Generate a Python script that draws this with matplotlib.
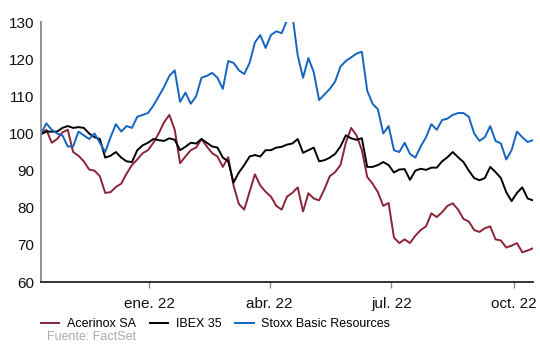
import matplotlib
matplotlib.use("Agg")
import matplotlib.pyplot as plt
import matplotlib.dates as mdates
import pandas as pd

# Data (rebased to 100), sampled every 4 days from 12 Oct 2021
dates = pd.date_range("2021-10-12", periods=93, freq="4D")

acerinox = [
    100, 101, 97.5, 98.5, 100.3, 101, 95, 94, 92.5, 90.3,
    90, 88.5, 84, 84.2, 85.6, 86.5, 89.2, 91.5, 93, 94.7,
    95.5, 97.5, 100, 103, 105, 101, 92, 93.8, 95.5, 96.2,
    98.5, 96.5, 94.7, 93.8, 91, 93.6, 86, 81, 79.5, 84.3,
    89, 86, 84.3, 83, 80.5, 79.5, 83, 84, 85.5, 79,
    83.9, 82.5, 82, 85, 88.5, 89.6, 91.5, 97.5, 101.5, 99.5,
    95.5, 88.3, 86.5, 84.2, 80.5, 81.3, 72, 70.5, 71.5, 70.5,
    72.5, 74, 75, 78.5, 77.5, 78.8, 80.5, 81.2, 79.5, 77,
    76.3, 74, 73.5, 74.5, 75, 71.5, 71.2, 69.3, 69.8, 70.5,
    68, 68.5, 69.1,
]

ibex = [
    99.8, 100.5, 100.5, 100.5, 101.5, 102, 101.5, 101.7, 101.5, 100,
    99, 98.5, 93.5, 94, 95, 93.5, 92.5, 92.3, 95.5, 96.8,
    97.5, 98.5, 98.2, 98, 98.7, 98.3, 95.5, 96.4, 97.5, 97.3,
    98.5, 97.5, 96.5, 96.2, 93.5, 92.5, 86.8, 89.5, 91.5, 93.8,
    94.2, 93.8, 95.5, 95.5, 96.2, 96.4, 97, 97.3, 98.5, 94.8,
    95.5, 96.2, 92.5, 92.8, 93.5, 94.5, 96.5, 99.5, 98.7, 98.3,
    98.7, 91, 91, 91.5, 92.3, 91.5, 89.5, 90.3, 90.4, 87.5,
    90, 90.5, 90.2, 90.8, 90.8, 92.5, 93.6, 95, 93.6, 92.3,
    90, 88, 87.4, 88, 91, 89.6, 88, 84.2, 81.8, 84,
    85.5, 82.5, 82,
]

stoxx = [
    100, 102.7, 101, 100, 99.5, 96.5, 96.5, 100.5, 99.5, 98.5,
    100, 97.5, 95, 99, 102.5, 100.5, 102, 101.5, 104.5, 105,
    105.5, 107.5, 110, 112.5, 115.5, 117, 108.5, 111, 108, 110,
    115, 115.5, 116.3, 115, 112, 119.5, 119, 117, 116, 119,
    124.5, 126.5, 123, 126.5, 127.5, 127, 130.5, 132, 121, 115,
    120.3, 116.5, 109, 110.5, 112, 114, 118, 119.5, 120.5, 121.5,
    122, 111.5, 108, 106.5, 100, 102, 95.5, 95, 97.5, 94.5,
    93.5, 96.5, 99, 102.5, 101, 103.6, 104, 105, 105.5, 105.5,
    104.5, 100, 98, 99, 102, 98, 97.3, 93, 95.5, 100.5,
    99, 97.7, 98.2,
]

tick_dates = ["2022-01-01", "2022-04-01", "2022-07-01", "2022-10-01"]
tick_labels = ["ene. 22", "abr. 22", "jul. 22", "oct. 22"]

plt.rcParams["font.family"] = ["Liberation Sans", "DejaVu Sans"]

fig = plt.figure(figsize=(5.4, 3.44), dpi=100)
ax = fig.add_axes([0.076, 0.180, 0.911, 0.756])

ax.plot(dates, acerinox, color="#8c2438", lw=1.4, label="Acerinox SA")
ax.plot(dates, ibex, color="#000000", lw=1.4, label="IBEX 35")
ax.plot(dates, stoxx, color="#1565c0", lw=1.4, label="Stoxx Basic Resources")

ax.set_ylim(60, 130)
ax.set_yticks(range(60, 131, 10))
ax.set_xlim(pd.Timestamp("2021-10-12"), pd.Timestamp("2022-10-15"))
ax.set_xticks([mdates.date2num(pd.Timestamp(d)) for d in tick_dates])
ax.set_xticklabels(tick_labels)

for s in ["top", "right"]:
    ax.spines[s].set_visible(False)
ax.spines["left"].set_color("#888888")
ax.spines["left"].set_linewidth(1.3)
ax.spines["bottom"].set_color("#222222")
ax.spines["bottom"].set_linewidth(1.3)

ax.tick_params(axis="y", length=0, pad=5, labelsize=11, colors="#111111")
ax.tick_params(axis="x", length=4.5, width=1, color="#888888", pad=6,
               labelsize=11, labelcolor="#111111")

fig.legend(loc="center left", bbox_to_anchor=(0.075, 0.058), ncol=3, frameon=False,
           fontsize=9, handlelength=1.5, handletextpad=0.6, columnspacing=1.1,
           borderpad=0, borderaxespad=0)

fig.text(0.087, 0.004, "Fuente: FactSet", fontsize=9, color="#aaaaaa",
         ha="left", va="bottom")

fig.savefig("out.png", dpi=100)
